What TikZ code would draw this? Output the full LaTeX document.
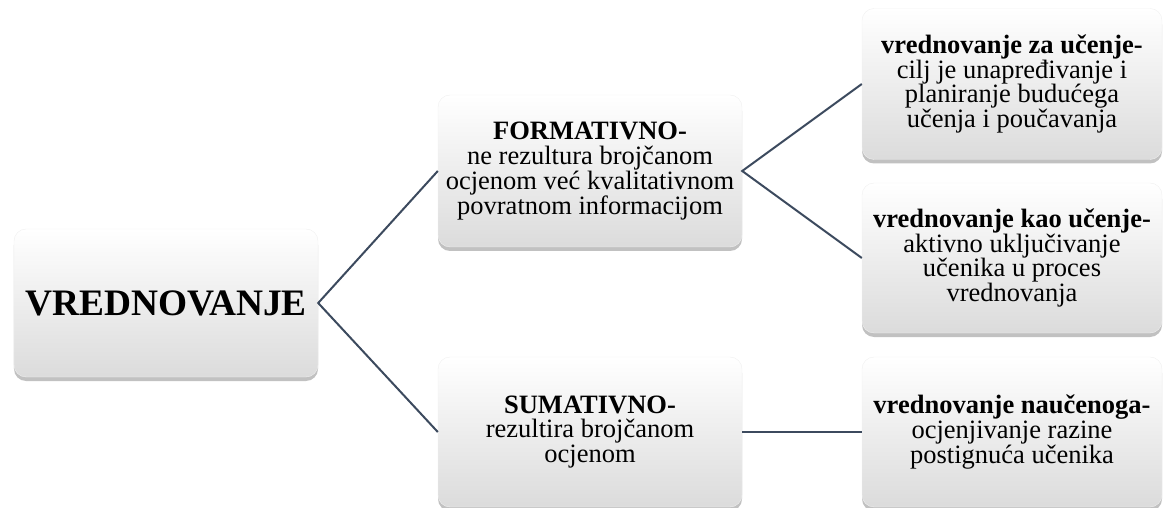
\documentclass[tikz,border=0pt]{standalone}
\usepackage{fontspec}
\setmainfont{Liberation Serif}
\usetikzlibrary{shadows}

\definecolor{linija}{HTML}{3C4A5E}

\tikzset{
  kutija/.style={rounded corners=12bp, top color=white, middle color=white,
    bottom color=black!14, draw=black!6, align=center,
    font=\fontsize{26.6}{25}\selectfont,
    drop shadow={shadow xshift=0bp, shadow yshift=-4bp, opacity=0.35, fill=black!70}},
  veza/.style={draw=linija, line width=2bp}
}

\begin{document}
\begin{tikzpicture}[x=1bp, y=-1bp]
  % --- OKVIR ---
  \useasboundingbox (0,0) rectangle (1163,508);

  % --- KORIJEN ---
  \node[kutija, minimum width=304bp, minimum height=148bp,
        font=\fontsize{37.5}{40}\selectfont\bfseries] (vred) at (166,303) {VREDNOVANJE};

  % --- DRUGA RAZINA ---
  \node[kutija, minimum width=304bp, minimum height=152bp] (form) at (590,171)
    {\textbf{FORMATIVNO-}\\ne rezultura brojčanom\\ocjenom već kvalitativnom\\povratnom informacijom};
  \node[kutija, minimum width=304bp, minimum height=150bp] (sum) at (590,432)
    {\textbf{SUMATIVNO-}\\rezultira brojčanom\\ocjenom};

  % --- TREĆA RAZINA ---
  \node[kutija, minimum width=300bp, minimum height=151bp] (zaUc) at (1012,84)
    {\textbf{vrednovanje za učenje-}\\cilj je unapređivanje i\\planiranje budućega\\učenja i poučavanja};
  \node[kutija, minimum width=300bp, minimum height=150bp] (kaoUc) at (1012,258)
    {\textbf{vrednovanje kao učenje-}\\aktivno uključivanje\\učenika u proces\\vrednovanja};
  \node[kutija, minimum width=300bp, minimum height=150bp] (nauc) at (1012,432)
    {\textbf{vrednovanje naučenoga-}\\ocjenjivanje razine\\postignuća učenika};

  % --- VEZE ---
  \draw[veza] (form.west) -- (vred.east) -- (sum.west);
  \draw[veza] (zaUc.west) -- (form.east) -- (kaoUc.west);
  \draw[veza] (sum.east) -- (nauc.west);

\end{tikzpicture}
\end{document}
